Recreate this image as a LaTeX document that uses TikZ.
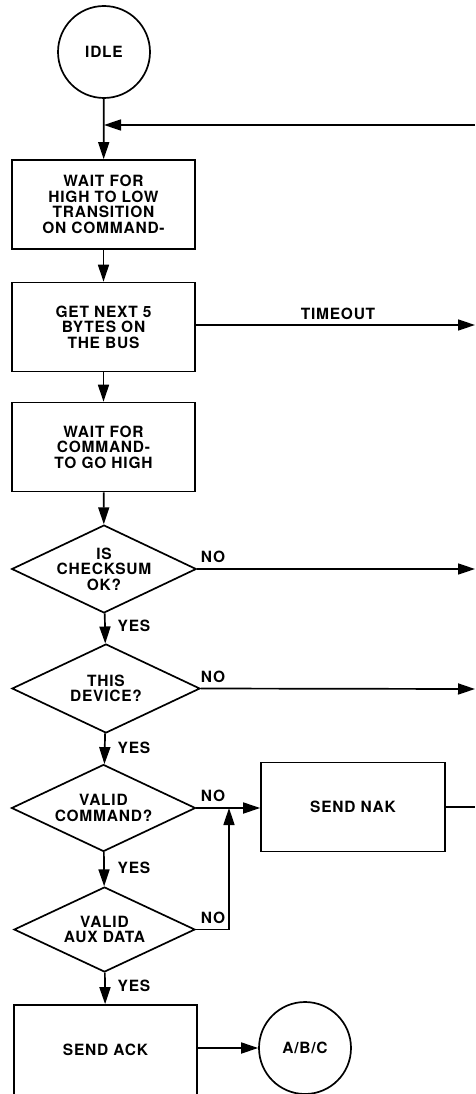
\documentclass[tikz,border=0pt]{standalone}
\usepackage{fontspec}
\setmainfont{TeX Gyre Heros}[LetterSpace=5]
\usetikzlibrary{shapes.geometric,arrows.meta}

\begin{document}
\begin{tikzpicture}[x=1pt,y=-1pt,line width=1.7pt,
		>={Triangle[length=17pt,width=11pt]},
		every node/.style={font=\fontsize{15.5}{15.6}\selectfont\bfseries,align=center},
		stepbox/.style={draw,rectangle,minimum width=183pt,minimum height=89pt,inner sep=0pt},
		testbox/.style={draw,diamond,aspect=2.1,minimum width=184pt,minimum height=87pt,inner sep=0pt},
		statecircle/.style={draw,circle,minimum size=92pt,inner sep=0pt}]
			% Bus command receive flow
			\useasboundingbox (0,0) rectangle (475,1094);
			\node[statecircle] (Idle) at (104,52) {IDLE};
			\node[stepbox] (WaitLow) at (103.5,204.5) {WAIT FOR\\HIGH TO LOW\\TRANSITION\\ON COMMAND-};
			\node[stepbox] (GetBytes) at (103.5,327) {GET NEXT 5\\BYTES ON\\THE BUS};
			\node[stepbox] (WaitHigh) at (103.5,447) {WAIT FOR\\COMMAND-\\TO GO HIGH};
			\node[testbox] (Checksum) at (104,569) {IS\\CHECKSUM\\OK?};
			\node[testbox,minimum width=188pt,minimum height=89pt] (ThisDevice) at (106,688.5) {THIS\\DEVICE?};
			\node[testbox] (ValidCmd) at (103.5,808) {VALID\\COMMAND?};
			\node[testbox,minimum width=181pt,minimum height=85pt] (ValidAux) at (104.5,929.5) {VALID\\AUX DATA};
			\node[stepbox,minimum width=184pt] (SendNak) at (353,807) {SEND NAK};
			\node[stepbox,minimum height=90pt] (SendAck) at (105.5,1050) {SEND ACK};
			\node[statecircle] (Abc) at (305,1048) {A/B/C};
			
			\coordinate (LoopIn) at (104,125);
			\coordinate (LoopEnd) at (475,125);
			\coordinate (TimeoutEnd) at (475,325);
			\coordinate (ChecksumEnd) at (475,569);
			\coordinate (DeviceEnd) at (475,689);
			\coordinate (NakEnd) at (475,807);
			\coordinate (NakJoin) at (229,808);
			
			\draw[->] (Idle) to (WaitLow);
			\draw[->] (LoopEnd) to (LoopIn);
			\draw[->] (WaitLow) to (GetBytes);
			\draw[->] (GetBytes) to (WaitHigh);
			\draw[->] (GetBytes.east |- TimeoutEnd) to (TimeoutEnd);
			\draw[->] (WaitHigh) to (Checksum);
			\draw[->] (Checksum.east) to (ChecksumEnd);
			\draw[->] (Checksum) to (ThisDevice);
			\draw[->] (ThisDevice.east) to (DeviceEnd);
			\draw[->] (ThisDevice) to (ValidCmd);
			\draw[->] (ValidCmd.east) to (SendNak.west |- ValidCmd.east);
			\draw (SendNak.east) to (NakEnd);
			\draw[->] (ValidCmd) to (ValidAux);
			\draw[->] (ValidAux.east) -| (NakJoin);
			\draw[->] (ValidAux) to (SendAck);
			\draw[->] (SendAck.east |- Abc.west) to (Abc);
			
			\node (TimeoutLabel) at (338,314) {TIMEOUT};
			\node (NoChecksum) at (213,557) {NO};
			\node (YesChecksum) at (134,626) {YES};
			\node (NoDevice) at (213,677) {NO};
			\node (YesDevice) at (134,748) {YES};
			\node (NoCmd) at (213,796) {NO};
			\node (YesCmd) at (134,868) {YES};
			\node (NoAux) at (213,918) {NO};
			\node (YesAux) at (134,986) {YES};
			
			\end{tikzpicture}
\end{document}
